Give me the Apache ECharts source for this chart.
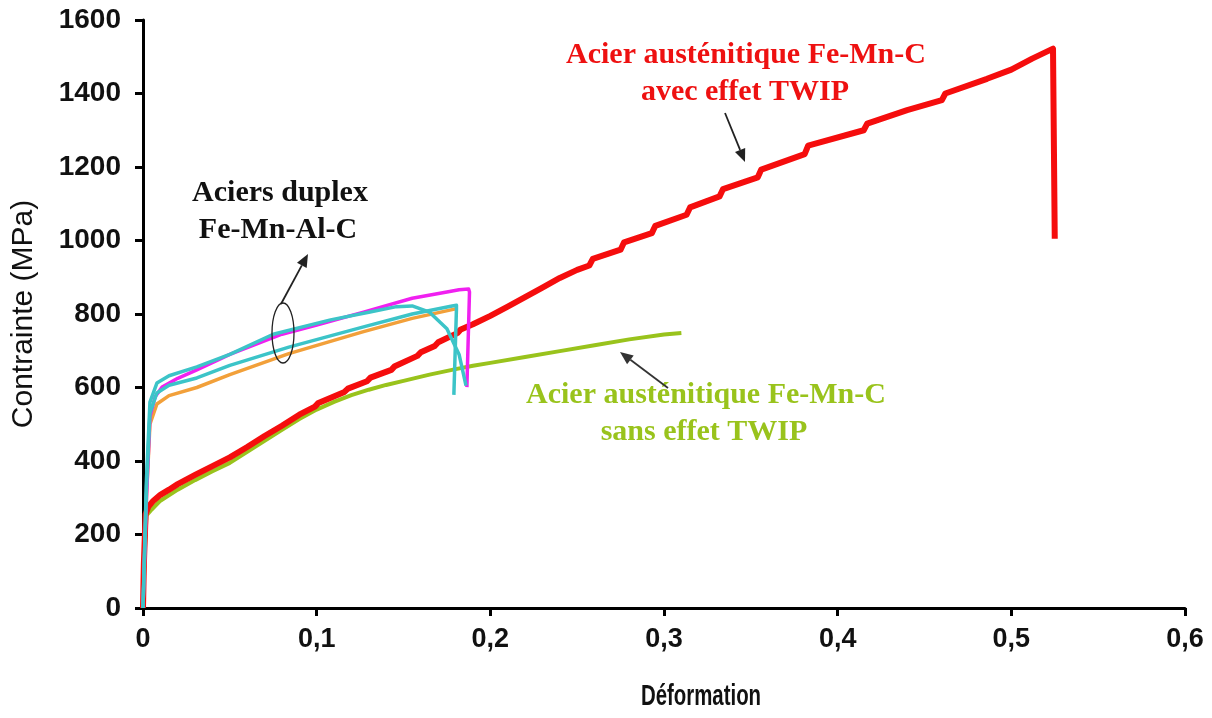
<!DOCTYPE html>
<html>
<head>
<meta charset="utf-8">
<script src="https://cdn.jsdelivr.net/npm/echarts@6/dist/echarts.min.js"></script>
<style>
html,body{margin:0;padding:0;background:#fff;}
#chart{width:1212px;height:718px;}
</style>
</head>
<body>
<div id="chart"></div>
<script>
// ---- Data (strain, stress MPa) ----
const xTickLabels = ['0', '0,1', '0,2', '0,3', '0,4', '0,5', '0,6'];
const yTickLabels = ['0', '200', '400', '600', '800', '1000', '1200', '1400', '1600'];

// Acier austénitique Fe-Mn-C avec effet TWIP (red)
const twipCurve = [
  [0,0],[0.0005,120],[0.0015,255],[0.003,275],[0.006,292],[0.01,308],[0.015,322],[0.02,337],
  [0.03,362],[0.04,386],[0.05,410],[0.06,438],[0.07,468],[0.08,496],[0.09,526],[0.099,548],
  [0.101,558],[0.116,588],[0.118,597],[0.129,617],[0.131,627],[0.143,648],[0.145,658],
  [0.158,686],[0.16,696],[0.168,713],[0.17,723],[0.181,748],[0.183,758],[0.19,772],[0.2,795],
  [0.21,820],[0.22,846],[0.23,872],[0.24,898],[0.25,920],[0.257,932],
  [0.259,950],[0.275,975],[0.277,995],[0.293,1020],[0.295,1040],[0.313,1070],[0.315,1090],
  [0.332,1120],[0.334,1140],[0.354,1172],[0.356,1193],[0.381,1235],[0.383,1258],[0.415,1300],
  [0.417,1318],[0.44,1355],[0.46,1382],[0.462,1400],[0.486,1440],[0.5,1465],[0.512,1495],
  [0.524,1522],[0.525,1005]
];

// Acier austénitique Fe-Mn-C sans effet TWIP (green)
const noTwipCurve = [
  [0,0],[0.001,150],[0.002,252],[0.005,268],[0.01,292],[0.02,322],[0.03,348],[0.04,372],
  [0.05,395],[0.06,425],[0.07,455],[0.08,485],[0.09,514],[0.1,540],[0.11,561],[0.12,579],
  [0.13,594],[0.14,607],[0.15,618],[0.165,635],[0.18,650],[0.19,659],[0.2,667],[0.22,683],
  [0.24,699],[0.26,715],[0.28,731],[0.3,744],[0.31,748]
];

// Aciers duplex Fe-Mn-Al-C
const duplexOrange = [
  [0,0],[0.002,300],[0.004,500],[0.008,555],[0.015,578],[0.031,600],[0.05,635],[0.084,692],
  [0.127,752],[0.155,788],[0.178,812],[0.18,814]
];
const duplexMagenta = [
  [0,0],[0.002,300],[0.004,520],[0.007,575],[0.011,601],[0.02,625],[0.031,648],[0.05,690],
  [0.08,745],[0.1,770],[0.127,805],[0.155,843],[0.175,860],[0.182,866],[0.1875,868],
  [0.188,860],[0.1865,601]
];
const duplexCyanB = [
  [0,0],[0.002,330],[0.004,530],[0.008,585],[0.015,606],[0.031,626],[0.05,660],[0.084,710],
  [0.127,765],[0.155,800],[0.178,822],[0.1805,824],[0.1805,815],[0.179,580]
];
const duplexCyanA = [
  [0,0],[0.002,350],[0.004,560],[0.008,612],[0.015,632],[0.031,656],[0.05,690],[0.075,745],
  [0.108,784],[0.13,805],[0.146,820],[0.155,822],[0.165,805],[0.175,760],[0.182,690],[0.186,605]
];

// ---- Chart ----
const chart = echarts.init(document.getElementById('chart'), null, {renderer: 'canvas'});

function arrow(x1, y1, x2, y2, color) {
  const ang = Math.atan2(y2 - y1, x2 - x1);
  const L = 13, W = 5.5;
  const bx = x2 - L * Math.cos(ang), by = y2 - L * Math.sin(ang);
  const px = -Math.sin(ang) * W, py = Math.cos(ang) * W;
  return [
    {type: 'line', shape: {x1: x1, y1: y1, x2: bx, y2: by}, style: {stroke: color, lineWidth: 1.8}, z: 100},
    {type: 'polygon', shape: {points: [[x2, y2], [bx + px, by + py], [bx - px, by - py]]}, style: {fill: color}, z: 100}
  ];
}

const serif = '"Liberation Serif", "Times New Roman", serif';
function label(text, x, y, color) {
  return {type: 'text', x: x, y: y, z: 100,
    style: {text: text, fill: color, font: 'bold 30px ' + serif, textAlign: 'center', textVerticalAlign: 'middle'}};
}

const graphics = [].concat(
  label('Acier austénitique Fe-Mn-C', 746, 55, '#ee1111'),
  label('avec effet TWIP', 745, 92, '#ee1111'),
  label('Acier austénitique Fe-Mn-C', 706, 395, '#99c31c'),
  label('sans effet TWIP', 704, 432, '#99c31c'),
  label('Aciers duplex', 280, 193, '#111111'),
  label('Fe-Mn-Al-C', 278, 230, '#111111'),
  arrow(725, 113, 745, 162, '#222'),
  arrow(668, 388, 620, 352, '#333'),
  arrow(281, 304, 308, 254, '#222'),
  [{type: 'ellipse', shape: {cx: 283, cy: 333, rx: 11, ry: 30}, style: {fill: 'none', stroke: '#222', lineWidth: 1.3}, z: 100}],
  [{type: 'text', x: 701, y: 697, scaleX: 0.68, z: 100,
    style: {text: 'Déformation', fill: '#111', font: 'bold 30px "Liberation Sans", Arial, sans-serif',
      textAlign: 'center', textVerticalAlign: 'middle'}}]
);

function lineSeries(name, data, color, width) {
  return {name: name, type: 'line', data: data, showSymbol: false, symbol: 'none',
    lineStyle: {color: color, width: width, join: 'round'}, itemStyle: {color: color}, animation: false};
}

chart.setOption({
  backgroundColor: '#ffffff',
  animation: false,
  grid: {left: 143, right: 27, top: 20, bottom: 110, containLabel: false},
  xAxis: {
    type: 'value', min: 0, max: 0.6, interval: 0.1,
    axisLine: {onZero: false, lineStyle: {color: '#000', width: 3}},
    axisTick: {show: true, inside: false, length: 8, lineStyle: {color: '#000', width: 3}},
    axisLabel: {margin: 18, color: '#111', fontSize: 27, fontWeight: 'bold',
      fontFamily: '"Liberation Sans", Arial, sans-serif',
      formatter: function (v, i) { return xTickLabels[Math.round(v * 10)]; }},
    splitLine: {show: false}
  },
  yAxis: {
    type: 'value', min: 0, max: 1600, interval: 200,
    name: 'Contrainte (MPa)', nameLocation: 'middle', nameGap: 104, nameRotate: 90,
    nameTextStyle: {fontFamily: '"Liberation Sans", Arial, sans-serif', fontSize: 30, color: '#111'},
    axisLine: {onZero: false, lineStyle: {color: '#000', width: 3}},
    axisTick: {show: true, inside: false, length: 8, lineStyle: {color: '#000', width: 3}},
    axisLabel: {margin: 22, color: '#111', fontSize: 28, fontWeight: 'bold',
      fontFamily: '"Liberation Sans", Arial, sans-serif',
      formatter: function (v) { return yTickLabels[Math.round(v / 200)]; }},
    splitLine: {show: false}
  },
  series: [
    lineSeries('Fe-Mn-C sans effet TWIP', noTwipCurve, '#99c31c', 4),
    lineSeries('Fe-Mn-C avec effet TWIP', twipCurve, '#f50d0d', 6),
    lineSeries('Duplex orange', duplexOrange, '#f2a03a', 3.5),
    lineSeries('Duplex magenta', duplexMagenta, '#f020f0', 3.5),
    lineSeries('Duplex cyan B', duplexCyanB, '#3cc4c8', 3.5),
    lineSeries('Duplex cyan A', duplexCyanA, '#3cc4c8', 3.5)
  ],
  graphic: graphics
});
</script>
</body>
</html>
